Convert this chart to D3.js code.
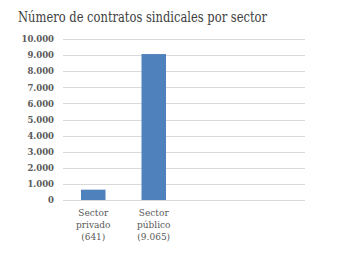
<!DOCTYPE html>
<html>
<head>
<meta charset="utf-8">
<script src="https://cdn.jsdelivr.net/npm/d3@7"></script>
<style>
  body { margin: 0; background: #fff; }
  svg text { font-family: "DejaVu Serif", "Liberation Serif", serif; }
</style>
</head>
<body>
<div id="chart"></div>
<script>
// data
let categories = ["Sector privado (641)", "Sector público (9.065)"];
let labelLines = [["Sector", "privado", "(641)"], ["Sector", "público", "(9.065)"]];
let values = [641, 9065];
let yTicks = [0, 1000, 2000, 3000, 4000, 5000, 6000, 7000, 8000, 9000, 10000];
let title = "Número de contratos sindicales por sector";

let width = 338, height = 254;
let svg = d3.select("#chart").append("svg")
    .attr("width", width)
    .attr("height", height);

// scales
let x = d3.scaleBand()
    .domain(categories)
    .range([63, 184])
    .paddingInner(0.595)
    .paddingOuter(0.2975);
let y = d3.scaleLinear()
    .domain([0, 10000])
    .range([200, 39]);

let fmt = d => d3.format(",")(d).replace(/,/g, ".");

// gridlines
svg.append("g")
    .selectAll("line")
    .data(yTicks)
    .enter()
    .append("line")
    .attr("x1", 63)
    .attr("x2", 305)
    .attr("y1", d => Math.round(y(d)) + 0.5)
    .attr("y2", d => Math.round(y(d)) + 0.5)
    .attr("stroke", "#d9d9d9")
    .attr("stroke-width", 1);

// y axis labels
let yAxis = d3.axisLeft(y)
    .tickValues(yTicks)
    .tickFormat(fmt)
    .tickSize(0)
    .tickPadding(0);
let yg = svg.append("g")
    .attr("transform", "translate(54,0)")
    .call(yAxis);
yg.select(".domain").remove();
yg.selectAll("text")
    .attr("font-family", "DejaVu Serif")
    .attr("font-size", 8.5)
    .attr("font-weight", "bold")
    .attr("fill", "#595959");

// bars
svg.selectAll("rect.bar")
    .data(values)
    .enter()
    .append("rect")
    .attr("class", "bar")
    .attr("x", (d, i) => x(categories[i]))
    .attr("width", x.bandwidth())
    .attr("y", d => y(d))
    .attr("height", d => y(0) - y(d))
    .attr("fill", "#4f81bd");

// x labels
let xl = svg.append("g")
    .selectAll("text")
    .data(categories)
    .enter()
    .append("text")
    .attr("x", d => x(d) + x.bandwidth() / 2)
    .attr("text-anchor", "middle")
    .attr("font-size", 9)
    .attr("fill", "#595959");
xl.each(function(d, i) {
    d3.select(this).selectAll("tspan")
        .data(labelLines[i])
        .enter()
        .append("tspan")
        .attr("x", x(d) + x.bandwidth() / 2)
        .attr("y", (t, j) => 216 + j * 12)
        .text(t => t);
});

// title
svg.append("text")
    .attr("x", 18)
    .attr("y", 22)
    .attr("font-size", 14.5)
    .attr("fill", "#404040")
    .attr("textLength", 249)
    .attr("lengthAdjust", "spacingAndGlyphs")
    .text(title);
</script>
</body>
</html>
